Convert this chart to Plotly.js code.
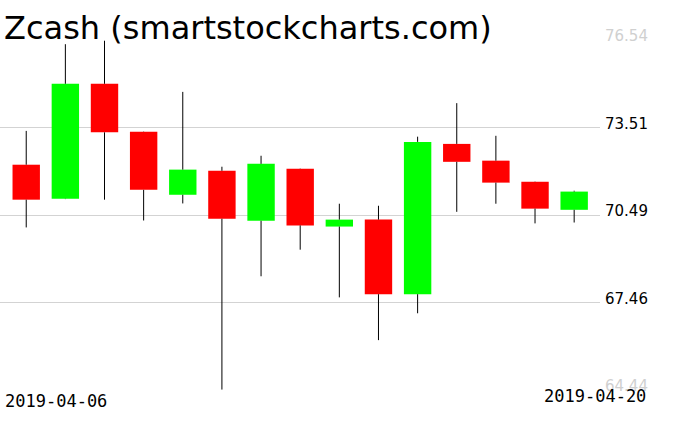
<!DOCTYPE html>
<html>
<head>
<meta charset="utf-8">
<script src="https://cdn.plot.ly/plotly-3.0.1.min.js"></script>
<style>html,body{margin:0;padding:0;background:#fff;}#chart{width:676px;height:431px;}</style>
</head>
<body>
<div id="chart"></div>
<script>
const dates = ["2019-04-06","2019-04-07","2019-04-08","2019-04-09","2019-04-10","2019-04-11","2019-04-12","2019-04-13","2019-04-14","2019-04-15","2019-04-16","2019-04-17","2019-04-18","2019-04-19","2019-04-20"];
const openVals  = [72.23, 71.05, 75.03, 73.37, 71.19, 72.02, 70.29, 72.09, 70.09, 70.33, 67.75, 72.95, 72.37, 71.64, 70.67];
const highVals  = [73.40, 76.40, 76.52, 73.38, 74.75, 72.16, 72.54, 72.10, 70.88, 70.81, 73.20, 74.36, 73.23, 71.65, 71.33];
const lowVals   = [70.06, 71.04, 71.02, 70.30, 70.89, 64.45, 68.37, 69.29, 67.64, 66.16, 67.09, 70.60, 70.88, 70.20, 70.23];
const closeVals = [71.02, 75.03, 73.35, 71.36, 72.06, 70.36, 72.26, 70.13, 70.33, 67.75, 73.02, 72.33, 71.61, 70.71, 71.30];
const tickVals  = [64.44, 67.46, 70.49, 73.51, 76.54];
const tickText  = ["64.44", "67.46", "70.49", "73.51", "76.54"];
const titleText = "Zcash (smartstockcharts.com)";

const UP = "#00ff00", DOWN = "#ff0000";

const bodyBase = dates.map((d, i) => Math.min(openVals[i], closeVals[i]));
const bodyLen  = dates.map((d, i) => Math.abs(closeVals[i] - openVals[i]));
const bodyCol  = dates.map((d, i) => closeVals[i] >= openVals[i] ? UP : DOWN);

const wx = [], wy = [];
dates.forEach((d, i) => {
  const top = Math.max(openVals[i], closeVals[i]);
  const bot = Math.min(openVals[i], closeVals[i]);
  wx.push(d, d, null, d, d, null);
  wy.push(highVals[i], top, null, bot, lowVals[i], null);
});

const traces = [
  {type: "bar", x: dates, y: bodyLen, base: bodyBase, width: 0.7,
   marker: {color: bodyCol, line: {width: 0}}, hoverinfo: "skip"},
  {type: "scatter", mode: "lines", x: wx, y: wy, connectgaps: false,
   line: {color: "#000000", width: 1}, hoverinfo: "skip"}
];

const edgeGray = "#d0d0d0";
const annotations = tickVals.map((v, i) => ({
  xref: "paper", yref: "y", x: 1, y: v, xanchor: "left", yanchor: "bottom",
  xshift: 3, yshift: -7, showarrow: false, text: tickText[i],
  font: {family: "DejaVu Sans", size: 15,
         color: (i === 0 || i === tickVals.length - 1) ? edgeGray : "#000000"}
}));
annotations.push({
  xref: "paper", yref: "paper", x: 0, y: 0, xanchor: "left", yanchor: "top",
  xshift: 3, yshift: 1, showarrow: false, text: dates[0],
  font: {family: "DejaVu Sans Mono", size: 17, color: "#000000"}
});
annotations.push({
  xref: "paper", yref: "paper", x: 1, y: 0, xanchor: "right", yanchor: "top",
  xshift: 48, yshift: 6, showarrow: false, text: dates[dates.length - 1],
  font: {family: "DejaVu Sans Mono", size: 17, color: "#000000"}
});

const layout = {
  width: 676, height: 431,
  margin: {l: 0, r: 76, t: 40, b: 41, pad: 0},
  paper_bgcolor: "#ffffff", plot_bgcolor: "#ffffff",
  showlegend: false,
  title: {text: titleText, x: 0.006, xanchor: "left", xref: "container",
          y: 1 - 28 / 431, yanchor: "middle", yref: "container",
          font: {family: "DejaVu Sans", size: 32, color: "#000000"}},
  xaxis: {type: "category", range: [-0.67, 14.66], showgrid: false, zeroline: false,
          showline: false, showticklabels: false, ticks: "", fixedrange: true},
  yaxis: {range: [64.435, 76.545], tickmode: "array", tickvals: tickVals, showticklabels: false,
          showgrid: true, gridcolor: "#d3d3d3", gridwidth: 1, zeroline: false, showline: false,
          ticks: "", fixedrange: true},
  annotations: annotations,
  bargap: 0.3
};

Plotly.newPlot("chart", traces, layout, {displayModeBar: false, staticPlot: true});
</script>
</body>
</html>
